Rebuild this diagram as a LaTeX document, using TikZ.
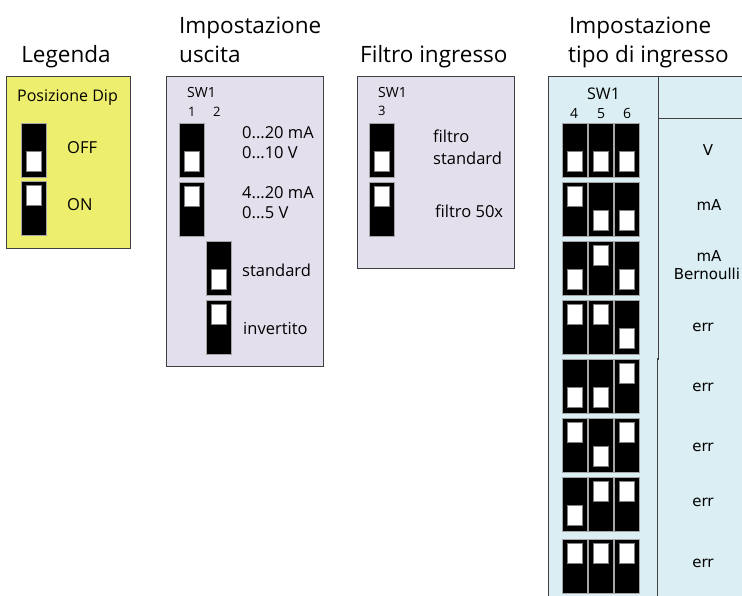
\documentclass[tikz,border=0pt]{standalone}
\usepackage{fontspec}
\setmainfont{Open Sans}
\newfontfamily\tabfont{DejaVu Sans}
\definecolor{legy}{HTML}{EEEE6E}
\definecolor{lil}{HTML}{E4DFEC}
\definecolor{lblue}{HTML}{DAEEF3}
\definecolor{bord}{HTML}{404040}
\newcommand\fsz[1]{\fontsize{#1}{#1}\selectfont}
\newcommand\dipsw[4]{%
  \node[swb,anchor=north west] (#1) at (#2,#3) {};
  \ifnum#4=1
    \node[knob,anchor=north] (#1k) at ([yshift=-4pt]#1.north) {};
  \else
    \node[knob,anchor=south] (#1k) at ([yshift=6pt]#1.south) {};
  \fi}
\begin{document}
\begin{tikzpicture}[x=1pt,y=-1pt,
  box/.style={draw=bord,line width=1pt},
  swb/.style={draw=gray!70,line width=0.6pt,fill=black,minimum width=25pt,minimum height=54pt,inner sep=0pt},
  knob/.style={draw=gray,line width=0.5pt,fill=white,minimum width=15pt,minimum height=20pt,inner sep=0pt},
  ttl/.style={anchor=base west,inner sep=0pt,font=\fsz{22.5}},
  lbl/.style={anchor=base west,inner sep=0pt,font=\fsz{16.5}},
  sw/.style={anchor=base west,inner sep=0pt,font=\fsz{14}},
  num/.style={anchor=base west,inner sep=0pt,font=\fsz{13}},
  tl/.style={anchor=base,inner sep=0pt,font=\tabfont\fsz{15}}]
\useasboundingbox (0,0) rectangle (742,595);
\fill[white] (0,0) rectangle (742,595);
% ---- Legenda
\node[ttl,anchor=base] (tleg) at (66,62) {Legenda};
\draw[box,fill=legy] (6,76) rectangle (130,248);
\node[lbl,font=\fsz{16}] (pdip) at (17,101) {Posizione Dip};
\dipsw{loff}{21}{123}{0}
\dipsw{lon}{21}{181}{1}
\node[lbl] (toff) at (67,153) {OFF};
\node[lbl] (ton) at (67,210) {ON};
% ---- Impostazione uscita
\node[ttl] (tus1) at (179,33) {Impostazione};
\node[ttl] (tus2) at (179,62) {uscita};
\draw[box,fill=lil] (166,76) rectangle (323,366);
\node[sw] (usw) at (187,97) {SW1};
\node[num] (un1) at (188,116) {1};
\node[num] (un2) at (213,116) {2};
\dipsw{ua}{179}{123}{0}
\dipsw{ub}{179}{182}{1}
\dipsw{uc}{206}{241}{0}
\dipsw{ud}{206}{300}{1}
\node[lbl] (ul1) at (242,138) {0...20 mA};
\node[lbl] (ul2) at (242,158) {0...10 V};
\node[lbl] (ul3) at (242,198) {4...20 mA};
\node[lbl] (ul4) at (242,218) {0...5 V};
\node[lbl] (ul5) at (242,276) {standard};
\node[lbl] (ul6) at (243,334) {invertito};
% ---- Filtro ingresso
\node[ttl] (tfi) at (360,62) {Filtro ingresso};
\draw[box,fill=lil] (357,76) rectangle (514,268);
\node[sw] (fsw) at (378,97) {SW1};
\node[num] (fn3) at (378,115) {3};
\dipsw{fa}{369}{123}{0}
\dipsw{fb}{369}{182}{1}
\node[lbl] (fl1) at (433,142) {filtro};
\node[lbl] (fl2) at (433,164) {standard};
\node[lbl] (fl3) at (435,217) {filtro 50x};
% ---- Impostazione tipo di ingresso
\node[ttl] (tti1) at (569,33) {Impostazione};
\node[ttl] (tti2) at (568,62) {tipo di ingresso};
\fill[lblue] (548,76) rectangle (745,598);
\draw[box] (548,598) -- (548,76) -- (745,76);
\draw[box] (658,76) -- (658,360);
\draw[box] (657,358) -- (657,598);
\draw[box] (658,118) -- (745,118);
\node[sw,font=\fsz{16}] (tsw) at (587,99) {SW1};
\node[num,font=\fsz{14}] (tn4) at (570,118) {4};
\node[num,font=\fsz{14}] (tn5) at (597,118) {5};
\node[num,font=\fsz{14}] (tn6) at (623,118) {6};
\foreach \r/\yy/\a/\b/\c in {1/123/0/0/0,2/182/1/0/0,3/241/0/1/0,4/300/1/1/0,5/359/0/0/1,6/418/1/0/1,7/477/0/1/1,8/539/1/1/1}{
  \dipsw{r\r a}{562}{\yy}{\a}
  \dipsw{r\r b}{588}{\yy}{\b}
  \dipsw{r\r c}{614}{\yy}{\c}
}
\node[tl] (v1) at (708,155) {V};
\node[tl] (v2) at (709,210) {mA};
\node[tl] (v3) at (709,261) {mA};
\node[tl] (v3b) at (707,279) {Bernoulli};
\node[tl] (v4) at (703,331) {err};
\node[tl] (v5) at (703,391) {err};
\node[tl] (v6) at (703,451) {err};
\node[tl] (v7) at (703,506) {err};
\node[tl] (v8) at (703,567) {err};
\end{tikzpicture}
\end{document}
